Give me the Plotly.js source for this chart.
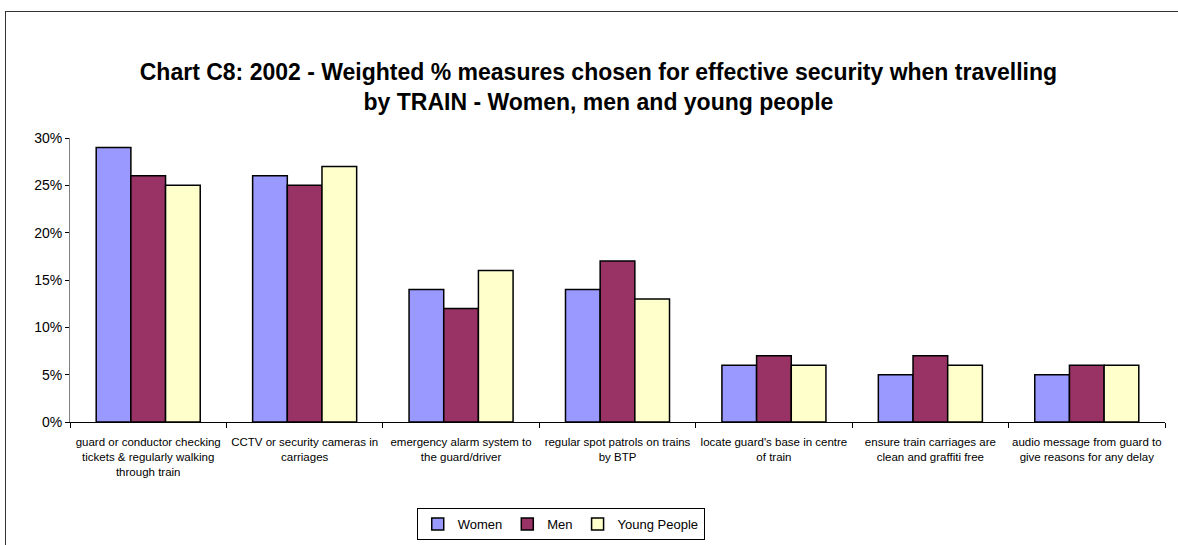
<!DOCTYPE html>
<html>
<head>
<meta charset="utf-8">
<script src="https://cdn.plot.ly/plotly-3.0.1.min.js"></script>
<style>
  html, body { margin: 0; padding: 0; background: #fff; }
  #wrap { position: relative; width: 1178px; height: 545px; }
  #chart { width: 1178px; height: 545px; }
  #frame { position: absolute; left: 5px; top: 11px; right: -2px; bottom: -2px;
           border-left: 1px solid #333; border-top: 1px solid #333; pointer-events: none; }
</style>
</head>
<body>
<div id="wrap"><div id="chart"></div><div id="frame"></div></div>
<script>
const categories = [
  "guard or conductor checking<br>tickets & regularly walking<br>through train",
  "CCTV or security cameras in<br>carriages",
  "emergency alarm system to<br>the guard/driver",
  "regular spot patrols on trains<br>by BTP",
  "locate guard's base in centre<br>of train",
  "ensure train carriages are<br>clean and graffiti free",
  "audio message from guard to<br>give reasons for any delay"
];
const women = [0.29, 0.26, 0.14, 0.14, 0.06, 0.05, 0.05];
const men = [0.26, 0.25, 0.12, 0.17, 0.07, 0.07, 0.06];
const youngPeople = [0.25, 0.27, 0.16, 0.13, 0.06, 0.06, 0.06];
const seriesNames = ["Women", "Men", "Young People"];
const tickVals = [0, 0.05, 0.10, 0.15, 0.20, 0.25, 0.30];
const tickText = ["0%", "5%", "10%", "15%", "20%", "25%", "30%"];

const colors = ["#9999FF", "#993366", "#FFFFCC"];
const data = [women, men, youngPeople].map((vals, i) => ({
  type: "bar",
  name: seriesNames[i],
  x: categories,
  y: vals,
  marker: { color: colors[i], line: { color: "#000", width: 1.5 } },
  hoverinfo: "x+y"
}));

const layout = {
  width: 1178, height: 545,
  paper_bgcolor: "#fff", plot_bgcolor: "#fff",
  margin: { l: 70, r: 13, t: 138, b: 123, autoexpand: false },
  font: { family: "Liberation Sans, Arial, sans-serif", color: "#000" },
  title: {
    text: "<b>Chart C8: 2002 - Weighted % measures chosen for effective security when travelling<br>by TRAIN - Women, men and young people</b>",
    font: { size: 23, family: "Liberation Sans, Arial, sans-serif", color: "#000" },
    x: 0.508, xref: "container", xanchor: "center",
    y: 0.853, yref: "container", yanchor: "middle"
  },
  barmode: "group",
  bargap: 0.335,
  bargroupgap: 0,
  xaxis: {
    tickfont: { size: 11.5 },
    showline: true, linecolor: "#000", linewidth: 1,
    ticks: "outside", ticklen: 5, tickcolor: "#000",
    tickson: "boundaries",
    ticklabelstandoff: 9,
    automargin: false,
    showgrid: false, zeroline: false,
    tickangle: 0
  },
  yaxis: {
    range: [0, 0.30],
    tickvals: tickVals, ticktext: tickText,
    tickfont: { size: 14 },
    showline: true, linecolor: "#808080", linewidth: 1,
    ticks: "outside", ticklen: 4, tickcolor: "#000",
    automargin: false,
    showgrid: false, zeroline: false
  },
  showlegend: true,
  legend: {
    orientation: "h",
    x: 0.476, xref: "container", xanchor: "center",
    y: 0.0385, yref: "container", yanchor: "middle",
    bordercolor: "#000", borderwidth: 1,
    font: { size: 13 },
    itemwidth: 30,
    tracegroupgap: 0,
    traceorder: "normal"
  }
};

Plotly.newPlot("chart", data, layout, { displayModeBar: false, staticPlot: true });
</script>
</body>
</html>
